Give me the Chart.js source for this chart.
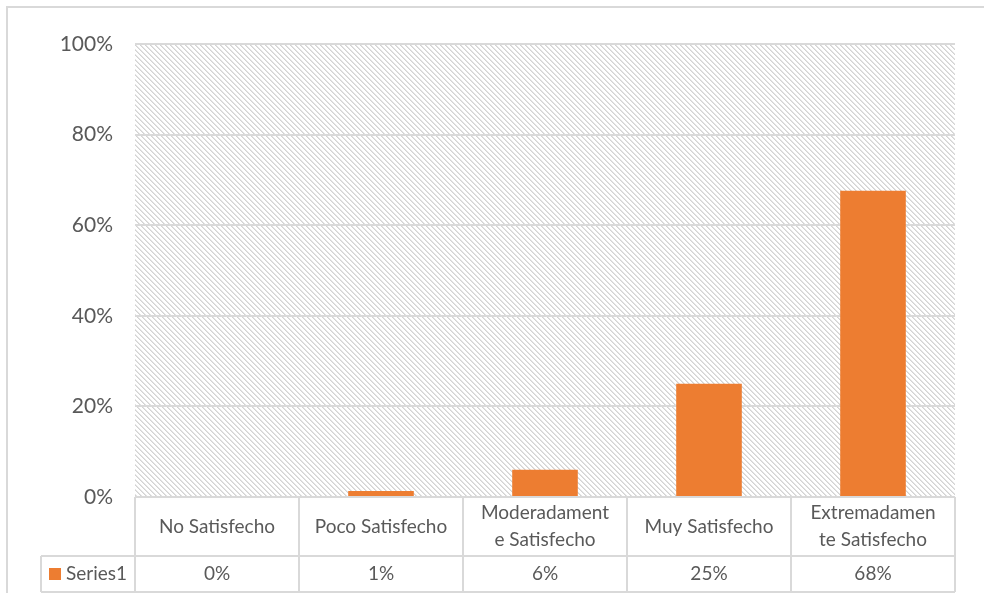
<!DOCTYPE html>
<html>
<head>
<meta charset="utf-8">
<script src="https://cdn.jsdelivr.net/npm/chart.js@4"></script>
<style>
  html, body { margin: 0; padding: 0; background: #fff; }
  #wrap { width: 984px; height: 593px; position: relative; }
</style>
</head>
<body>
<div id="wrap"><canvas id="chart"></canvas></div>
<script>
'use strict';

let categories = [
  ['No Satisfecho'],
  ['Poco Satisfecho'],
  ['Moderadament', 'e Satisfecho'],
  ['Muy Satisfecho'],
  ['Extremadamen', 'te Satisfecho']
];
let seriesName = 'Series1';
let values = [0, 1.3, 6, 25, 67.6];
let tableLabels = ['0%', '1%', '6%', '25%', '68%'];
let yTicks = [0, 20, 40, 60, 80, 100];

let textColor = '#595959';
let lineColor = '#d9d9d9';
let barColor = '#ed7d31';
let fontName = 'Lato, "Noto Sans", sans-serif';

function makeHatch() {
  let c = document.createElement('canvas');
  c.width = 5;
  c.height = 5;
  let g = c.getContext('2d');
  g.fillStyle = '#fff';
  g.fillRect(0, 0, 5, 5);
  for (let y = 0; y < 5; y++) {
    g.fillStyle = '#d3d3d3';
    g.fillRect(y % 5, y, 1, 1);
    g.fillStyle = '#e4e4e4';
    g.fillRect((y + 1) % 5, y, 1, 1);
  }
  return c;
}

// background, hatch and the data table under the plot
let tablePlugin = {
  id: 'tablePlugin',
  beforeDraw(chart) {
    let ctx = chart.ctx;
    let area = chart.chartArea;
    ctx.save();
    ctx.fillStyle = '#fff';
    ctx.fillRect(0, 0, chart.width, chart.height);
    ctx.strokeStyle = lineColor;
    ctx.lineWidth = 2;
    ctx.strokeRect(7, 7, 1100, 1100);
    ctx.fillStyle = ctx.createPattern(makeHatch(), 'repeat');
    ctx.fillRect(area.left, area.top, area.right - area.left, area.bottom - area.top);
    ctx.restore();
  },
  afterDraw(chart) {
    let ctx = chart.ctx;
    let area = chart.chartArea;
    let xs = chart.scales.x;
    let step = (area.right - area.left) / categories.length;
    let top = area.bottom;
    let mid = top + 59;
    let bot = mid + 36;
    let legLeft = 41;

    ctx.save();
    ctx.strokeStyle = lineColor;
    ctx.lineWidth = 2;
    ctx.beginPath();
    ctx.moveTo(area.left, top);
    ctx.lineTo(area.right, top);
    ctx.moveTo(legLeft, mid);
    ctx.lineTo(area.right, mid);
    ctx.moveTo(legLeft, bot);
    ctx.lineTo(area.right, bot);
    ctx.moveTo(legLeft, mid);
    ctx.lineTo(legLeft, bot);
    for (let i = 0; i <= categories.length; i++) {
      let x = area.left + i * step;
      ctx.moveTo(x, top);
      ctx.lineTo(x, bot);
    }
    ctx.stroke();

    ctx.fillStyle = textColor;
    ctx.font = '19px ' + fontName;
    ctx.textAlign = 'center';
    ctx.textBaseline = 'middle';
    for (let i = 0; i < categories.length; i++) {
      let cx = xs.getPixelForValue(i);
      let lines = categories[i];
      let lh = 27;
      let y0 = (top + mid) / 2 - (lines.length - 1) * lh / 2;
      for (let j = 0; j < lines.length; j++) {
        ctx.fillText(lines[j], cx, y0 + j * lh);
      }
      ctx.fillText(tableLabels[i], cx, (mid + bot) / 2);
    }

    ctx.fillStyle = barColor;
    ctx.fillRect(49, 568, 12, 12);
    ctx.fillStyle = textColor;
    ctx.textAlign = 'left';
    ctx.fillText(seriesName, 66, (mid + bot) / 2);
    ctx.restore();
  }
};

new Chart(document.getElementById('chart'), {
  type: 'bar',
  data: {
    labels: categories,
    datasets: [{
      label: seriesName,
      data: values,
      backgroundColor: barColor,
      barPercentage: 0.4,
      categoryPercentage: 1
    }]
  },
  options: {
    responsive: true,
    maintainAspectRatio: false,
    animation: false,
    layout: { padding: { top: 44, right: 29, bottom: 96, left: 0 } },
    plugins: {
      legend: { display: false },
      tooltip: { enabled: false }
    },
    scales: {
      x: {
        display: false
      },
      y: {
        min: 0,
        max: 100,
        afterFit(scale) { scale.width = 135; },
        afterBuildTicks(scale) { scale.ticks = yTicks.map(v => ({ value: v })); },
        border: { display: false },
        grid: { color: lineColor, lineWidth: 2, drawTicks: false },
        ticks: {
          padding: 22,
          color: textColor,
          font: { family: fontName, size: 21 },
          callback: v => v + '%'
        }
      }
    }
  },
  plugins: [tablePlugin]
});
</script>
</body>
</html>
